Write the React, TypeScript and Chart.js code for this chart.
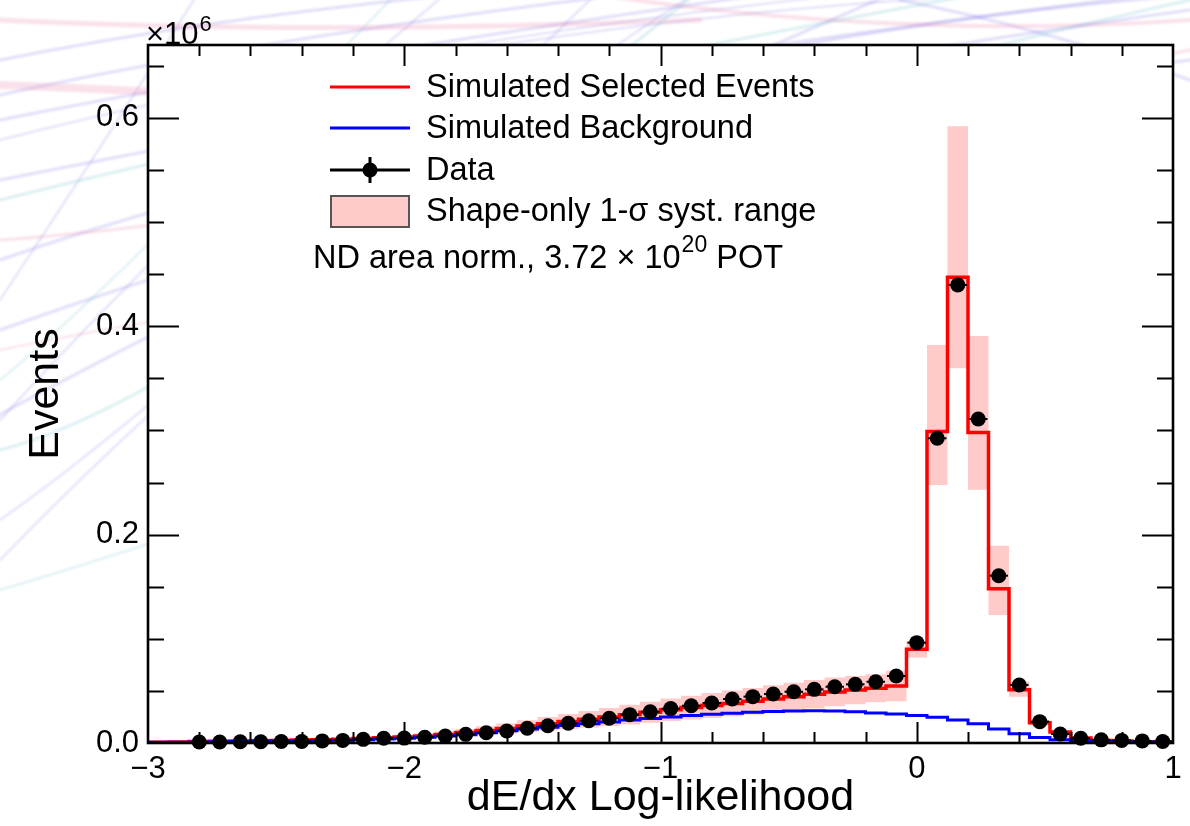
import { useEffect, useRef } from "react";
import { Chart, registerables } from "chart.js";

Chart.register(...registerables);

const FONT = '"Liberation Sans", Arial, Helvetica, sans-serif';
const WIDTH = 1190;
const HEIGHT = 826;

// 50 bins of width 0.08 on the dE/dx log-likelihood axis
const BIN_EDGES = [
  -3.0, -2.92, -2.84, -2.76, -2.68, -2.6, -2.52, -2.44, -2.36, -2.28,
  -2.2, -2.12, -2.04, -1.96, -1.88, -1.8, -1.72, -1.64, -1.56, -1.48,
  -1.4, -1.32, -1.24, -1.16, -1.08, -1.0, -0.92, -0.84, -0.76, -0.68,
  -0.6, -0.52, -0.44, -0.36, -0.28, -0.2, -0.12, -0.04, 0.04, 0.12,
  0.2, 0.28, 0.36, 0.44, 0.52, 0.6, 0.68, 0.76, 0.84, 0.92, 1.0,
];

// Bin contents in units of 10^6 events
const SELECTED = [
  0.0008, 0.001, 0.0014, 0.0017, 0.002, 0.0022, 0.0025, 0.0028, 0.0032, 0.0037,
  0.0043, 0.005, 0.0058, 0.0068, 0.0082, 0.01, 0.012, 0.014, 0.0162, 0.0185,
  0.0207, 0.0228, 0.025, 0.0272, 0.0295, 0.0318, 0.034, 0.036, 0.038, 0.04,
  0.0423, 0.0445, 0.0468, 0.049, 0.0508, 0.0525, 0.0547, 0.09, 0.299, 0.447,
  0.298, 0.148, 0.051, 0.0195, 0.0105, 0.0048, 0.0025, 0.0018, 0.0012, 0.0009,
];

const BACKGROUND = [
  0.0007, 0.0008, 0.001, 0.0012, 0.0014, 0.0016, 0.0018, 0.002, 0.0023, 0.0027,
  0.0032, 0.0038, 0.0045, 0.0055, 0.0066, 0.008, 0.0098, 0.0117, 0.0135, 0.0152,
  0.0168, 0.0184, 0.0202, 0.022, 0.0236, 0.025, 0.0263, 0.0275, 0.0286, 0.0295,
  0.0302, 0.0307, 0.0309, 0.0308, 0.03, 0.0288, 0.0278, 0.0265, 0.0248, 0.022,
  0.0185, 0.0135, 0.0088, 0.0052, 0.0032, 0.0021, 0.0015, 0.0011, 0.0009, 0.0007,
];

const DATA = [
  null, null, 0.001, 0.001, 0.0012, 0.0012, 0.0015, 0.0015, 0.002, 0.0025,
  0.0035, 0.0045, 0.0047, 0.0055, 0.0067, 0.0083, 0.0099, 0.0115, 0.0141, 0.0166,
  0.0189, 0.0214, 0.0237, 0.0272, 0.03, 0.033, 0.0358, 0.0384, 0.0422, 0.0445,
  0.047, 0.0492, 0.0515, 0.054, 0.0563, 0.0588, 0.0643, 0.0963, 0.2925, 0.4397,
  0.311, 0.1606, 0.0557, 0.0205, 0.0087, 0.0045, 0.003, 0.0025, 0.002, 0.0015,
];

// Shape-only 1-sigma systematic envelope
const SYST_LOW = [
  0.0007, 0.0009, 0.0012, 0.0014, 0.0016, 0.0017, 0.0019, 0.0021, 0.0023, 0.0026,
  0.003, 0.0034, 0.0039, 0.0045, 0.0054, 0.0066, 0.0079, 0.0092, 0.0106, 0.0121,
  0.0135, 0.0149, 0.0164, 0.0178, 0.0194, 0.021, 0.0226, 0.024, 0.0256, 0.0272,
  0.0292, 0.0312, 0.0332, 0.0352, 0.0372, 0.039, 0.04, 0.082, 0.2477, 0.3597,
  0.243, 0.1229, 0.0445, 0.017, 0.009, 0.004, 0.002, 0.0014, 0.001, 0.0007,
];

const SYST_HIGH = [
  0.0009, 0.0011, 0.0016, 0.002, 0.0024, 0.0027, 0.0031, 0.0035, 0.0041, 0.0048,
  0.0056, 0.0066, 0.0077, 0.0091, 0.011, 0.0134, 0.0161, 0.0188, 0.0218, 0.0249,
  0.0279, 0.0307, 0.0336, 0.0366, 0.0396, 0.0426, 0.0454, 0.048, 0.0504, 0.0528,
  0.0554, 0.0578, 0.0604, 0.0628, 0.0644, 0.066, 0.0694, 0.098, 0.382, 0.592,
  0.3907, 0.1894, 0.0589, 0.0222, 0.012, 0.0056, 0.003, 0.0022, 0.0014, 0.0011,
];

const X_TICKS = [-3, -2, -1, 0, 1];
const X_TICK_LABELS = ["\u22123", "\u22122", "\u22121", "0", "1"];
const Y_TICKS = [0, 0.2, 0.4, 0.6];
const Y_TICK_LABELS = ["0.0", "0.2", "0.4", "0.6"];
const X_MINOR_STEP = 0.2;
const Y_MINOR_STEP = 0.05;

const X_TITLE = "dE/dx Log-likelihood";
const Y_TITLE = "Events";
const LEGEND_LABELS = [
  "Simulated Selected Events",
  "Simulated Background",
  "Data",
  "Shape-only 1-\u03c3 syst. range",
];
const POT_TEXT = ["ND area norm., 3.72 \u00d7 10", "20", " POT"];
const EXPONENT_TEXT = ["\u00d710", "6"];

const RED = "#ff0000";
const BLUE = "#0000ff";
const PINK = "rgb(255,202,202)";

// Faint decorative streaks in the page backdrop
const STREAK_TONES = [
  "rgba(130,120,230,0.24)",
  "rgba(235,130,170,0.24)",
  "rgba(110,190,205,0.24)",
];
const STREAKS = [
  { p: [0, 95, 250, 40, 620, -5], tone: 0, w: 3 },
  { p: [0, 120, 300, 60, 760, -5], tone: 0, w: 3 },
  { p: [0, 60, 200, 20, 450, -5], tone: 0, w: 3 },
  { p: [0, 140, 350, 50, 840, -5], tone: 0, w: 2 },
  { p: [0, 260, 400, 120, 1190, 10], tone: 0, w: 3 },
  { p: [0, 330, 500, 150, 1190, 60], tone: 0, w: 3 },
  { p: [0, 180, 600, 60, 1190, -10], tone: 0, w: 3 },
  { p: [-10, 420, 300, 250, 900, -10], tone: 0, w: 3 },
  { p: [0, 520, 200, 380, 600, -10], tone: 0, w: 2 },
  { p: [200, -10, 100, 150, 0, 300], tone: 0, w: 2 },
  { p: [450, -10, 200, 200, 0, 420], tone: 0, w: 2 },
  { p: [700, -10, 300, 250, 0, 560], tone: 0, w: 2 },
  { p: [900, 0, 1050, 30, 1190, 80], tone: 0, w: 3 },
  { p: [800, 45, 1000, 10, 1190, -5], tone: 0, w: 3 },
  { p: [500, 45, 800, 0, 1100, -10], tone: 0, w: 2 },
  { p: [0, 20, 300, 35, 700, 20], tone: 1, w: 5 },
  { p: [0, 85, 80, 88, 160, 92], tone: 1, w: 8 },
  { p: [0, 240, 300, 220, 1190, 50], tone: 1, w: 3 },
  { p: [600, -5, 900, 40, 1190, 20], tone: 1, w: 4 },
  { p: [0, 350, 100, 330, 160, 320], tone: 1, w: 2 },
  { p: [0, 200, 400, 100, 1000, -10], tone: 2, w: 3 },
  { p: [0, 450, 200, 400, 700, -10], tone: 2, w: 3 },
  { p: [0, 590, 100, 560, 160, 540], tone: 2, w: 2 },
  { p: [0, 380, 100, 300, 400, -10], tone: 2, w: 2 },
  { p: [1000, 45, 1100, 20, 1190, 0], tone: 2, w: 3 },
];

// Histogram outline: each bin's value starts at its lower edge and is held to
// the next edge; the last value is repeated at the upper edge of the range.
const stepPoints = (vals: number[]) => [
  ...vals.map((v, i) => ({ x: BIN_EDGES[i], y: v })),
  { x: BIN_EDGES[vals.length], y: vals[vals.length - 1] },
];

const dataPoints = () =>
  DATA.map((v, i) =>
    v == null ? null : { x: (BIN_EDGES[i] + BIN_EDGES[i + 1]) / 2, y: v }
  ).filter((p) => p !== null) as { x: number; y: number }[];

const backdrop = {
  id: "backdrop",
  beforeDraw(chart: any) {
    const { ctx, chartArea } = chart;
    ctx.save();
    ctx.fillStyle = "#fff";
    ctx.fillRect(0, 0, WIDTH, HEIGHT);
    ctx.lineCap = "round";
    ctx.filter = "blur(0.8px)";
    for (const s of STREAKS) {
      const [x0, y0, cx, cy, x1, y1] = s.p;
      ctx.strokeStyle = STREAK_TONES[s.tone];
      ctx.lineWidth = s.w;
      ctx.beginPath();
      ctx.moveTo(x0, y0);
      ctx.quadraticCurveTo(cx, cy, x1, y1);
      ctx.stroke();
    }
    ctx.filter = "none";
    ctx.fillStyle = "#fff";
    ctx.fillRect(
      chartArea.left,
      chartArea.top,
      chartArea.right - chartArea.left,
      chartArea.bottom - chartArea.top
    );
    ctx.restore();
  },
};

const errorBars = {
  id: "errorBars",
  afterDatasetsDraw(chart: any) {
    const { ctx } = chart;
    const xs = chart.scales.x;
    const ys = chart.scales.y;
    ctx.save();
    ctx.strokeStyle = "#000";
    ctx.lineWidth = 2;
    DATA.forEach((v, i) => {
      if (v == null) return;
      const y = ys.getPixelForValue(v);
      ctx.beginPath();
      ctx.moveTo(xs.getPixelForValue(BIN_EDGES[i]) + 1, y);
      ctx.lineTo(xs.getPixelForValue(BIN_EDGES[i + 1]) - 1, y);
      ctx.stroke();
    });
    ctx.restore();
  },
};

const frameAndTicks = {
  id: "frameAndTicks",
  afterDraw(chart: any) {
    const { ctx, chartArea } = chart;
    const { left, right, top, bottom } = chartArea;
    const xs = chart.scales.x;
    const ys = chart.scales.y;
    ctx.save();
    ctx.strokeStyle = "#000";
    ctx.lineWidth = 2;
    const nx = Math.round((xs.max - xs.min) / X_MINOR_STEP);
    for (let i = 1; i < nx; i++) {
      const v = xs.min + i * X_MINOR_STEP;
      const major = X_TICKS.some((t) => Math.abs(t - v) < 1e-6);
      const len = major ? 21 : 11;
      const px = Math.round(xs.getPixelForValue(v)) + 0.5;
      ctx.beginPath();
      ctx.moveTo(px, bottom);
      ctx.lineTo(px, bottom - len);
      ctx.moveTo(px, top);
      ctx.lineTo(px, top + len);
      ctx.stroke();
    }
    const ny = Math.floor((ys.max - ys.min) / Y_MINOR_STEP + 1e-6);
    for (let i = 1; i <= ny; i++) {
      const v = ys.min + i * Y_MINOR_STEP;
      const major = Y_TICKS.some((t) => Math.abs(t - v) < 1e-6);
      const len = major ? 31 : 16;
      const py = Math.round(ys.getPixelForValue(v)) + 0.5;
      ctx.beginPath();
      ctx.moveTo(left, py);
      ctx.lineTo(left + len, py);
      ctx.moveTo(right, py);
      ctx.lineTo(right - len, py);
      ctx.stroke();
    }
    ctx.lineWidth = 2.6;
    ctx.strokeRect(left, top, right - left, bottom - top);
    ctx.restore();
  },
};

const annotations = {
  id: "annotations",
  afterDraw(chart: any) {
    const { ctx } = chart;
    ctx.save();
    const seg = (x0: number, y0: number, x1: number, y1: number, c: string, w: number) => {
      ctx.strokeStyle = c;
      ctx.lineWidth = w;
      ctx.beginPath();
      ctx.moveTo(x0, y0);
      ctx.lineTo(x1, y1);
      ctx.stroke();
    };
    const rows = [87, 128, 170, 211];
    seg(330, rows[0], 410, rows[0], RED, 3);
    seg(330, rows[1], 410, rows[1], BLUE, 3);
    seg(330, rows[2], 410, rows[2], "#000", 3);
    seg(370, rows[2] - 13, 370, rows[2] + 13, "#000", 3);
    ctx.fillStyle = "#000";
    ctx.beginPath();
    ctx.arc(370, rows[2], 7.5, 0, Math.PI * 2);
    ctx.fill();
    ctx.fillStyle = PINK;
    ctx.fillRect(331, 196, 78, 31);
    ctx.strokeStyle = "#555";
    ctx.lineWidth = 2;
    ctx.strokeRect(331, 196, 78, 31);

    ctx.fillStyle = "#000";
    ctx.textAlign = "left";
    ctx.textBaseline = "middle";
    ctx.font = `32.5px ${FONT}`;
    LEGEND_LABELS.forEach((t, i) => ctx.fillText(t, 426, rows[i] + 1));

    let x = 313;
    ctx.font = `32.5px ${FONT}`;
    ctx.fillText(POT_TEXT[0], x, 259);
    x += ctx.measureText(POT_TEXT[0]).width + 1;
    ctx.font = `23px ${FONT}`;
    ctx.fillText(POT_TEXT[1], x, 246);
    x += ctx.measureText(POT_TEXT[1]).width;
    ctx.font = `32.5px ${FONT}`;
    ctx.fillText(POT_TEXT[2], x, 259);

    ctx.textBaseline = "alphabetic";
    ctx.font = `31px ${FONT}`;
    ctx.fillText(EXPONENT_TEXT[0], 146, 44);
    const w = ctx.measureText(EXPONENT_TEXT[0]).width;
    ctx.font = `22px ${FONT}`;
    ctx.fillText(EXPONENT_TEXT[1], 146 + w + 1, 31);
    ctx.restore();
  },
};

export default function App() {
  const ref = useRef<HTMLCanvasElement>(null);

  useEffect(() => {
    const canvas = ref.current;
    if (!canvas) return;
    const chart = new Chart(canvas, {
      type: "line",
      data: {
        datasets: [
          {
            label: "Data",
            data: dataPoints(),
            showLine: false,
            pointRadius: 7.5,
            pointHoverRadius: 7.5,
            pointBackgroundColor: "#000",
            pointBorderWidth: 0,
            borderColor: "#000",
            clip: false,
          } as any,
          {
            label: "Simulated Background",
            data: stepPoints(BACKGROUND),
            stepped: "before",
            borderColor: BLUE,
            borderWidth: 3,
            pointRadius: 0,
            fill: false,
          },
          {
            label: "Simulated Selected Events",
            data: stepPoints(SELECTED),
            stepped: "before",
            borderColor: RED,
            borderWidth: 3.5,
            pointRadius: 0,
            fill: false,
          },
          {
            label: "syst high",
            data: stepPoints(SYST_HIGH),
            stepped: "before",
            borderColor: "rgba(0,0,0,0)",
            borderWidth: 1,
            backgroundColor: PINK,
            pointRadius: 0,
            fill: "+1",
          },
          {
            label: "syst low",
            data: stepPoints(SYST_LOW),
            stepped: "before",
            borderColor: "rgba(0,0,0,0)",
            borderWidth: 1,
            pointRadius: 0,
            fill: false,
          },
        ],
      },
      options: {
        responsive: false,
        animation: false,
        devicePixelRatio: 1,
        layout: { padding: { left: 0, right: 17, top: 45, bottom: 0 } },
        plugins: {
          legend: { display: false },
          tooltip: { enabled: false },
        },
        scales: {
          x: {
            type: "linear",
            position: "bottom",
            min: -3,
            max: 1,
            afterBuildTicks: (s: any) => {
              s.ticks = X_TICKS.map((v) => ({ value: v }));
            },
            afterFit: (s: any) => {
              s.height = HEIGHT - 743;
            },
            ticks: {
              autoSkip: false,
              maxRotation: 0,
              padding: 8,
              color: "#000",
              font: { family: FONT, size: 31 },
              callback: (_v: any, i: number) => X_TICK_LABELS[i],
            },
            grid: { display: false, drawTicks: false },
            border: { display: false },
            title: {
              display: true,
              text: X_TITLE,
              color: "#000",
              font: { family: FONT, size: 43 },
              padding: { top: 0, bottom: 2 },
            },
          },
          y: {
            type: "linear",
            position: "left",
            min: 0,
            max: 0.67,
            afterBuildTicks: (s: any) => {
              s.ticks = Y_TICKS.map((v) => ({ value: v }));
            },
            afterFit: (s: any) => {
              s.width = 148;
            },
            ticks: {
              padding: 9,
              color: "#000",
              font: { family: FONT, size: 31 },
              callback: (_v: any, i: number) => Y_TICK_LABELS[i],
            },
            grid: { display: false, drawTicks: false },
            border: { display: false },
            title: {
              display: true,
              text: Y_TITLE,
              color: "#000",
              font: { family: FONT, size: 43 },
              padding: { top: 20, bottom: 0 },
            },
          },
        },
      } as any,
      plugins: [backdrop, errorBars, frameAndTicks, annotations],
    });
    return () => chart.destroy();
  }, []);

  return (
    <div
      style={{
        position: "fixed",
        left: 0,
        top: 0,
        width: WIDTH,
        height: HEIGHT,
        background: "#fff",
      }}
    >
      <canvas
        ref={ref}
        width={WIDTH}
        height={HEIGHT}
        style={{ display: "block", width: WIDTH, height: HEIGHT }}
      />
    </div>
  );
}
